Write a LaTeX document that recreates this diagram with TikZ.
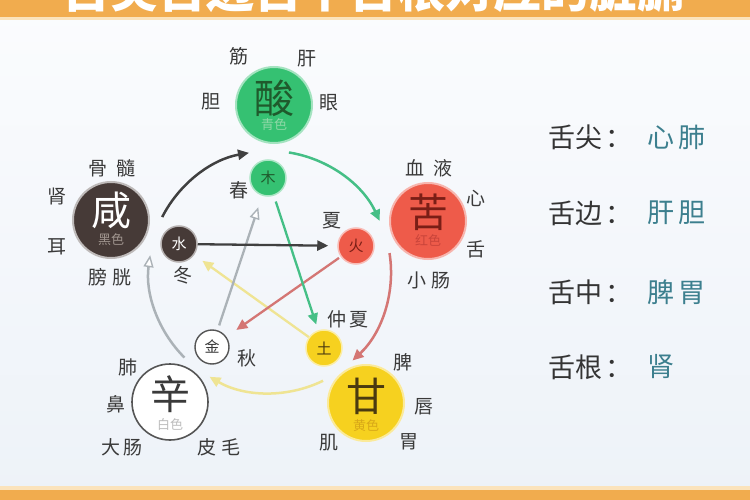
\documentclass[tikz,border=0pt]{standalone}
\usepackage{fontspec}
\setmainfont{Noto Sans CJK SC}
\usetikzlibrary{arrows.meta}
\definecolor{bgtop}{HTML}{FBFCFE}
\definecolor{bgbot}{HTML}{EDF2F8}
\definecolor{barc}{HTML}{F1AC4E}
\definecolor{barl}{HTML}{FBE3BC}
\definecolor{orgc}{HTML}{3A3A3A}
\definecolor{valc}{HTML}{3C7F8E}
\definecolor{woodc}{HTML}{35C172}
\definecolor{firec}{HTML}{EE5B4A}
\definecolor{waterc}{HTML}{463A37}
\definecolor{earthc}{HTML}{F6D11F}
\definecolor{metalc}{HTML}{555555}
\definecolor{darkline}{HTML}{404040}
\definecolor{greenline}{HTML}{45BF86}
\definecolor{redline}{HTML}{D47674}
\definecolor{yellowline}{HTML}{EFE493}
\definecolor{greyline}{HTML}{ABB2B7}
\definecolor{woodtxt}{HTML}{1F5A2C}
\definecolor{firetxt}{HTML}{7A1E16}
\definecolor{earthtxt}{HTML}{4A3A10}
\definecolor{qingc}{HTML}{8ED8A6}
\definecolor{hongc}{HTML}{C9443A}
\definecolor{heic}{HTML}{A0958F}
\definecolor{baic}{HTML}{BDBDBD}
\definecolor{huangc}{HTML}{D8A818}
\begin{document}
\begin{tikzpicture}[x=1pt,y=-1pt,
  big/.style={circle, minimum size=76pt, inner sep=0pt},
  small/.style={circle, minimum size=36pt, inner sep=0pt, font=\fontsize{15}{15}\selectfont},
  bigchar/.style={inner sep=0pt, font=\fontsize{40}{40}\selectfont},
  colorlab/.style={inner sep=0pt, font=\fontsize{13}{13}\selectfont},
  organ/.style={inner sep=0pt, text=orgc, font=\fontsize{19}{19}\selectfont},
  tonguelab/.style={inner sep=0pt, anchor=west, text=orgc!90!black, font=\fontsize{27}{27}\selectfont},
  tongueval/.style={inner sep=0pt, anchor=west, text=valc, font=\fontsize{27}{27}\selectfont},
  outer/.style={line width=2.5pt, -{Triangle[length=11pt,width=10pt]}},
  starline/.style={line width=2.3pt, -{Triangle[length=11pt,width=10pt]}},
]
\useasboundingbox (0,0) rectangle (750,500);
\shade[top color=bgtop, bottom color=bgbot] (0,0) rectangle (750,500);
% bars
\fill[barl] (0,17) rectangle (750,20);
\fill[barc] (0,0) rectangle (750,17);
\fill[barl] (0,486) rectangle (750,490);
\fill[barc] (0,490) rectangle (750,500);
\begin{scope}
\clip (0,0) rectangle (750,17);
\node[anchor=base, inner sep=0pt, text=white, font=\fontsize{48}{48}\selectfont\bfseries] (title) at (374,8) {舌尖舌边舌中舌根对应的脏腑};
\end{scope}

% big circles
\node[big, fill=woodc, draw=woodc!45, line width=2pt] (suan) at (274,105) {};
\node[bigchar, text=woodtxt] (suanc) at (274,98) {酸};
\node[colorlab, text=qingc] (suanl) at (274,125) {青色};

\node[big, fill=firec, draw=firec!45, line width=2pt] (ku) at (428,221) {};
\node[bigchar, text=firetxt] (kuc) at (428,212) {苦};
\node[colorlab, text=hongc] (kul) at (428,240) {红色};

\node[big, fill=waterc, draw=waterc!35, line width=2pt] (xian) at (111,220) {};
\node[bigchar, text=white] (xianc) at (111,210) {咸};
\node[colorlab, text=heic] (xianl) at (111,240) {黑色};

\node[big, fill=white, draw=metalc, line width=1.6pt] (xin) at (170,402) {};
\node[bigchar, text=orgc] (xinc) at (170,394) {辛};
\node[colorlab, text=baic] (xinl) at (170,425) {白色};

\node[big, fill=earthc, draw=earthc!45, line width=2pt] (gan) at (366,403) {};
\node[bigchar, text=earthtxt] (ganc) at (366,396) {甘};
\node[colorlab, text=huangc] (ganl) at (366,426) {黄色};

% small circles
\node[small, fill=woodc, draw=woodc!40, line width=1.5pt, text=woodtxt] (mu) at (268,178) {木};
\node[small, fill=firec, draw=firec!40, line width=1.5pt, text=firetxt] (huo) at (356,246) {火};
\node[small, fill=waterc, draw=waterc!40, line width=1.5pt, text=white] (shui) at (179,244) {水};
\node[small, fill=earthc, draw=earthc!40, line width=1.5pt, text=earthtxt] (tu) at (324,348) {土};
\node[small, fill=white, draw=metalc, line width=1.4pt, text=orgc, minimum size=34pt] (jin) at (212,347) {金};

% seasons
\node[organ] (chun) at (239,190) {春};
\node[organ] (xia) at (332,221) {夏};
\node[organ] (dong) at (183,275) {冬};
\node[organ] (zhongxia) at (348,319) {仲\hspace{4pt}夏};
\node[organ] (qiu) at (247,358) {秋};

% organ labels
\node[organ] (jinl) at (239,56) {筋};
\node[organ] (ganz) at (307,59) {肝};
\node[organ] (dan) at (211,102) {胆};
\node[organ] (yan) at (329,103) {眼};

\node[organ] (xueye) at (429,168) {血\hspace{9pt}液};
\node[organ] (xinz) at (476,198) {心};
\node[organ] (she) at (476,249) {舌};
\node[organ] (xiaochang) at (429,280) {小\hspace{6pt}肠};

\node[organ] (gusui) at (112,168) {骨\hspace{9pt}髓};
\node[organ] (shen) at (57,196) {肾};
\node[organ] (er) at (57,247) {耳};
\node[organ] (pangguang) at (110,277) {膀\hspace{6pt}胱};

\node[organ] (fei) at (128,367) {肺};
\node[organ] (bi) at (116,404) {鼻};
\node[organ] (dachang) at (122,447) {大\hspace{4pt}肠};
\node[organ] (pimao) at (219,447) {皮\hspace{6pt}毛};

\node[organ] (pi) at (403,362) {脾};
\node[organ] (chun2) at (424,407) {唇};
\node[organ] (wei) at (409,442) {胃};
\node[organ] (ji) at (329,443) {肌};

% outer generating arcs
\coordinate (C) at (270,272);
\coordinate (a1) at ([shift={(-153:121)}]C);
\coordinate (a2) at ([shift={(-81:121)}]C);
\coordinate (a3) at ([shift={(-9:121)}]C);
\coordinate (a4) at ([shift={(64:121)}]C);
\coordinate (a5) at ([shift={(135:121)}]C);
\draw[outer, draw=darkline] (a1) arc[start angle=-153, end angle=-100, radius=121];
\draw[outer, draw=greenline] (a2) arc[start angle=-81, end angle=-25, radius=121];
\draw[outer, draw=redline] (a3) arc[start angle=-9, end angle=47, radius=121];
\draw[outer, draw=yellowline] (a4) arc[start angle=64, end angle=120, radius=121];
\draw[line width=2.5pt, draw=greyline, -{Triangle[open, fill=white, length=12pt, width=10pt, line width=1.4pt]}] (a5) arc[start angle=135, end angle=188, radius=121];

% inner controlling star
\draw[starline, draw=yellowline, shorten >=10pt] (tu) -- (shui);
\draw[starline, draw=redline, shorten >=12pt, shorten <=2pt] (huo) -- (jin);
\draw[line width=2.3pt, draw=greyline, -{Triangle[open, fill=white, length=12pt, width=10pt, line width=1.4pt]}, shorten <=5pt, shorten >=12pt] (jin) -- (mu);
\draw[starline, draw=greenline, shorten <=6pt, shorten >=6pt] (mu) -- (tu);
\draw[starline, draw=darkline, shorten >=9pt] (shui) -- (huo);

% tongue map
\node[tonguelab] (t1) at (548,137) {舌尖\hspace{3pt}：};
\node[tongueval] (v1) at (647,137) {心\hspace{4pt}肺};
\node[tonguelab] (t2) at (548,213) {舌边\hspace{3pt}：};
\node[tongueval] (v2) at (647,213) {肝\hspace{4pt}胆};
\node[tonguelab] (t3) at (548,292) {舌中\hspace{3pt}：};
\node[tongueval] (v3) at (647,292) {脾\hspace{4pt}胃};
\node[tonguelab] (t4) at (548,367) {舌根\hspace{3pt}：};
\node[tongueval] (v4) at (647,367) {肾};
\end{tikzpicture}
\end{document}
